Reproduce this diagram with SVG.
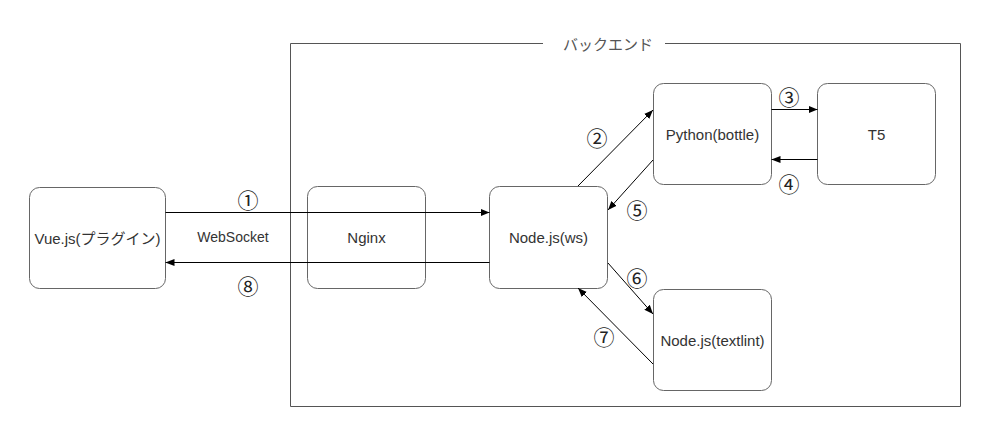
<svg xmlns="http://www.w3.org/2000/svg" width="999" height="443" viewBox="0 0 999 443">
<style>
.box{fill:#fff;stroke:#666;stroke-width:1}
.lbl{font-family:"Liberation Sans",Arial,"Noto Sans CJK JP",sans-serif;font-size:15px;fill:#333;text-anchor:middle;dominant-baseline:central}
.num{font-family:"Noto Sans CJK JP","DejaVu Sans",sans-serif;font-size:21px;font-weight:400;fill:#222;text-anchor:middle;dominant-baseline:central}
.con{stroke:#000;stroke-width:1;fill:none;marker-end:url(#ah)}
</style>
<defs>
<marker id="ah" viewBox="0 0 10 10" refX="10" refY="5" markerWidth="9" markerHeight="9" markerUnits="userSpaceOnUse" orient="auto">
<path d="M0,1 L10,5 L0,9 Z" fill="#000"/>
</marker>
</defs>
<rect width="999" height="443" fill="#fff"/>
<g id="backend">
<path d="M543,43.5 H290.5 V406.5 H960.5 V43.5 H665" fill="none" stroke="#555" stroke-width="1"/>
<text x="608" y="44" class="lbl" style="fill:#555">バックエンド</text>
</g>
<g id="vue"><rect class="box" x="29.5" y="187.5" width="136" height="101" rx="10"/><text class="lbl" x="97.5" y="238">Vue.js(プラグイン)</text></g>
<g id="nginx"><rect class="box" x="307.5" y="186.5" width="118" height="102" rx="10"/><text class="lbl" x="366.5" y="237.5">Nginx</text></g>
<g id="nodews"><rect class="box" x="489.5" y="186.5" width="118" height="102" rx="10"/><text class="lbl" x="548.5" y="237.5">Node.js(ws)</text></g>
<g id="python"><rect class="box" x="653.5" y="83.5" width="118" height="101" rx="10"/><text class="lbl" x="712.5" y="134">Python(bottle)</text></g>
<g id="t5"><rect class="box" x="817.5" y="83.5" width="118" height="101" rx="10"/><text class="lbl" x="876.5" y="134">T5</text></g>
<g id="textlint"><rect class="box" x="653.5" y="289.5" width="118" height="101" rx="10"/><text class="lbl" x="712.5" y="340">Node.js(textlint)</text></g>
<g id="connectors">
<line class="con" x1="165.5" y1="212.5" x2="489.5" y2="212.5"/>
<line class="con" x1="489.5" y1="262.5" x2="165.5" y2="262.5"/>
<line class="con" x1="578" y1="186" x2="653" y2="110"/>
<line class="con" x1="653" y1="160" x2="608" y2="210"/>
<line class="con" x1="771.5" y1="109.5" x2="817.5" y2="109.5"/>
<line class="con" x1="817.5" y1="159.5" x2="771.5" y2="159.5"/>
<line class="con" x1="608" y1="263" x2="653" y2="314"/>
<line class="con" x1="653" y1="364" x2="578" y2="288"/>
<text class="num" x="248" y="199">①</text>
<text class="lbl" x="233" y="237" style="font-size:14px">WebSocket</text>
<text class="num" x="248" y="285">⑧</text>
<text class="num" x="597" y="137">②</text>
<text class="num" x="789" y="96">③</text>
<text class="num" x="789" y="183">④</text>
<text class="num" x="637" y="209">⑤</text>
<text class="num" x="637" y="277">⑥</text>
<text class="num" x="604" y="336">⑦</text>
</g>
</svg>
